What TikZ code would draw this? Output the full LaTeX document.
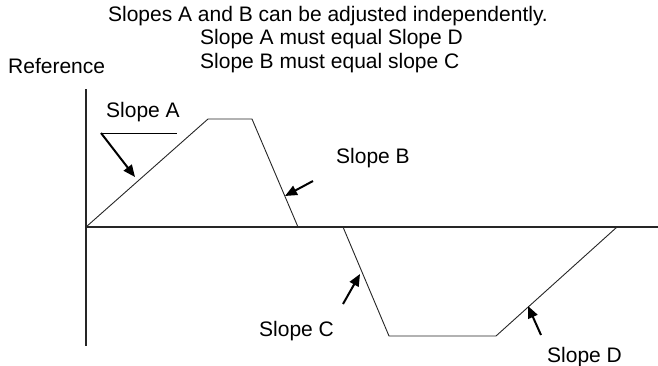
\documentclass[tikz,border=0pt]{standalone}
\usepackage{fontspec}
\setmainfont{Liberation Sans}
\usetikzlibrary{arrows.meta}
\begin{document}
\begin{tikzpicture}[x=1pt, y=-1pt,
  txt/.style={font=\fontsize{21}{22}\selectfont, inner sep=0pt, anchor=base west},
  axis/.style={line width=1.3pt, black!85},
  wave/.style={line width=0.9pt, black!85},
  ptr/.style={-{Triangle[length=12pt, width=10pt]}, line width=2pt}
]
  \useasboundingbox (0,0) rectangle (658,365);

  % Notes at the top
  \node[txt, anchor=base] (note1) at (328,21) {Slopes A and B can be adjusted independently.};
  \node[txt] (note2) at (200,44) {Slope A must equal Slope D};
  \node[txt] (note3) at (200,68) {Slope B must equal slope C};
  \node[txt] (ref) at (8,73) {Reference};

  % Axes
  \coordinate (o) at (86,227);
  \coordinate (top) at (86,89);
  \coordinate (bot) at (86,346);
  \coordinate (end) at (658,227);
  \draw[axis] (top) -- (bot);
  \draw[axis] (o) -- (end);

  % Reference waveform
  \coordinate (a1) at (208,119);
  \coordinate (a2) at (252,119);
  \coordinate (a3) at (298,227);
  \coordinate (c0) at (343,227);
  \coordinate (c1) at (389,336);
  \coordinate (c2) at (496,336);
  \coordinate (c3) at (617,227);
  \draw[wave] (o) -- (a1) -- (a2) -- (a3);
  \draw[wave] (c0) -- (c1) -- (c2) -- (c3);

  % Slope labels
  \node[txt] (slA) at (106,117) {Slope A};
  \node[txt] (slB) at (336,163) {Slope B};
  \node[txt] (slC) at (259,336) {Slope C};
  \node[txt] (slD) at (547,362) {Slope D};

  % Pointers
  \coordinate (pA) at (101,133);
  \coordinate (qA) at (177,133);
  \draw[line width=1pt] (pA) -- (qA);
  \draw[ptr] (pA) -- (135,177);
  \coordinate (pB) at (313,181);
  \draw[ptr] (pB) -- (285,196);
  \coordinate (pC) at (343,304);
  \draw[ptr] (pC) -- (360,274);
  \coordinate (pD) at (541,335);
  \draw[ptr] (pD) -- (528,306);
\end{tikzpicture}
\end{document}
